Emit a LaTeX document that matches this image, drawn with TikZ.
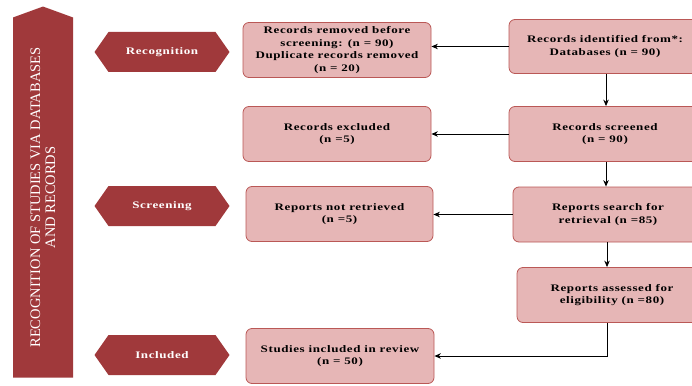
\documentclass[tikz,border=0pt]{standalone}
\usepackage{fontspec}
\setmainfont{Liberation Serif}
\newfontfamily\widefont[FakeStretch=1.3, LetterSpace=6]{Liberation Serif}
\usetikzlibrary{arrows.meta}
\usetikzlibrary{shapes.symbols}
\definecolor{custom-rose}{RGB}{230, 182, 182}
\definecolor{custom-edge}{RGB}{186, 88, 86}
\definecolor{custom-maroon}{RGB}{160, 57, 59}

\begin{document}
\begin{tikzpicture}[x=1pt, y=-1pt,
    box/.style={rounded corners=6pt, fill=custom-rose, draw=custom-edge, line width=0.8pt,
        minimum width=188pt, minimum height=55pt, align=center, inner sep=2pt,
        font=\widefont\bfseries\fontsize{10}{12.5}\selectfont},
    stage/.style={signal, signal to=west and east, signal pointer angle=110,
        fill=custom-maroon, text=white, minimum width=135pt, minimum height=40pt,
        inner sep=0pt, font=\widefont\bfseries\fontsize{10}{12}\selectfont},
    conn/.style={-{Stealth[length=6.5pt, width=5.5pt]}, line width=0.9pt}]
\useasboundingbox (0,0) rectangle (692,385);
\clip (0,0) rectangle (692,385);
\node[signal, signal to=east, signal pointer angle=140, rotate=90, fill=custom-maroon, text=white,
    minimum width=371pt, minimum height=60pt, inner sep=0pt, align=center,
    font=\fontsize{14.5}{15}\selectfont] (phase) at (43,197.5)
    {RECOGNITION OF STUDIES VIA DATABASES\\AND RECORDS};
\node[stage] (recog) at (162,52) {Recognition};
\node[stage] (screen) at (162,206) {Screening};
\node[stage] (incl) at (162,355) {Included};
\node[box] (removed) at (337,50) {Records removed before\\screening: (n = 90)\\Duplicate records removed\\(n = 20)};
\node[box, minimum width=192pt, minimum height=54pt] (ident) at (605,46.5) {Records identified from*:\\Databases (n = 90)};
\node[box] (excluded) at (337,134) {Records excluded\\(n =5)};
\node[box, minimum width=192pt] (screened) at (605,134) {Records screened\\(n = 90)};
\node[box, minimum width=187pt] (notret) at (339.5,214) {Reports not retrieved\\(n =5)};
\node[box, minimum width=190pt] (search) at (608,214.5) {Reports search for\\retrieval (n =85)};
\node[box, minimum width=190pt] (assess) at (612,295) {Reports assessed for\\eligibility (n =80)};
\node[box] (studies) at (340,356) {Studies included in review\\(n = 50)};
\draw[conn] (ident) -- (ident -| removed.east);
\draw[conn] (ident.south -| 606,0) -- (screened.north -| 606,0);
\draw[conn] (screened) -- (excluded);
\draw[conn] (screened.south -| 606,0) -- (search.north -| 606,0);
\draw[conn] (search) -- (search -| notret.east);
\draw[conn] (search.south -| 607,0) -- (assess.north -| 607,0);
\draw[conn] (assess.south -| 607,0) |- (studies.east);
\end{tikzpicture}
\end{document}
